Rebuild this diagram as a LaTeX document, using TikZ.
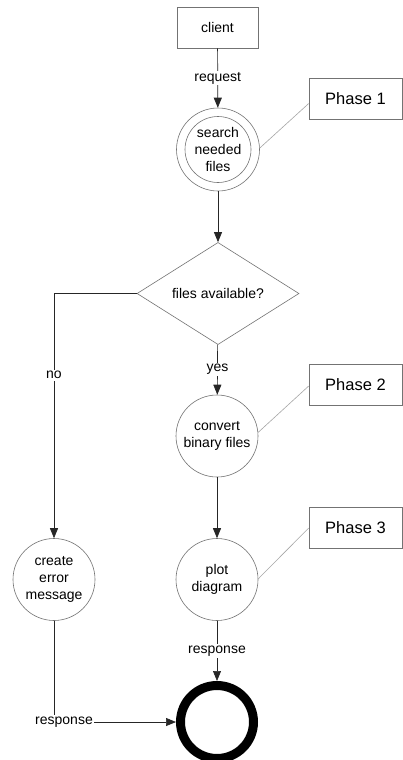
\documentclass[tikz,border=0pt]{standalone}
\usepackage{fontspec}
\setmainfont{Liberation Sans}
\usetikzlibrary{shapes.geometric,arrows.meta}
\begin{document}
\begin{tikzpicture}[x=1pt,y=-1pt,
  font=\fontsize{14}{17}\selectfont,
  shapeline/.style={draw=black!55, line width=0.6pt},
  boxnode/.style={shapeline, rectangle, minimum width=81pt, minimum height=41pt, inner sep=0pt},
  phasebox/.style={shapeline, rectangle, minimum width=93pt, minimum height=41pt, inner sep=0pt, font=\fontsize{16.5}{20}\selectfont},
  proc/.style={shapeline, circle, minimum size=82pt, inner sep=0pt, align=center},
  conn/.style={draw=black!85, line width=0.7pt},
  arr/.style={conn, -{Triangle[length=10pt,width=8pt]}},
  lbl/.style={fill=white, inner sep=1.5pt},
  phaseline/.style={draw=black!35, line width=0.6pt}]
\useasboundingbox (0,0) rectangle (403,760);
\fill[white] (0,0) rectangle (403,760);

\node[boxnode] (client) at (217.5,27.5) {client};
\node[proc, minimum size=83pt] (search) at (218,149.5) {};
\node[shapeline, circle, minimum size=66pt, inner sep=0pt, align=center] (searchin) at (218,149.5) {search\\needed\\files};
\node[shapeline, diamond, minimum width=162pt, minimum height=79pt, inner sep=0pt] (avail) at (218,293.5) {files available?};
\node[proc] (convert) at (217,436) {convert\\binary files};
\node[proc] (plot) at (217,579.5) {plot\\diagram};
\node[proc] (error) at (54,579.5) {create\\error\\message};
\node[circle, draw=black, line width=9pt, minimum size=73pt, inner sep=0pt] (end) at (217,722) {};

\node[phasebox] (p1) at (355.5,98.5) {Phase 1};
\node[phasebox] (p2) at (355.5,384.5) {Phase 2};
\node[phasebox] (p3) at (355.5,527.5) {Phase 3};

\draw[arr] (client) -- node[lbl] {request} (search);
\draw[arr] (search) -- (avail);
\draw[arr] (avail) -- node[lbl] {yes} (convert);
\draw[arr] (convert) -- (plot);
\draw[arr] (plot) -- node[lbl] {response} (end);
\draw[arr] (avail.west) -| node[lbl, pos=0.667] {no} (error.north);
\draw[arr] (error.south) |- node[lbl, pos=0.5, xshift=10pt] {response} (end.west);

\draw[phaseline] ([yshift=-5pt]p1.west) -- (search.2);
\draw[phaseline] ([yshift=-1.5pt]p2.west) -- (convert.5);
\draw[phaseline] ([yshift=-0.5pt]p3.west) -- (plot.1);
\end{tikzpicture}
\end{document}
